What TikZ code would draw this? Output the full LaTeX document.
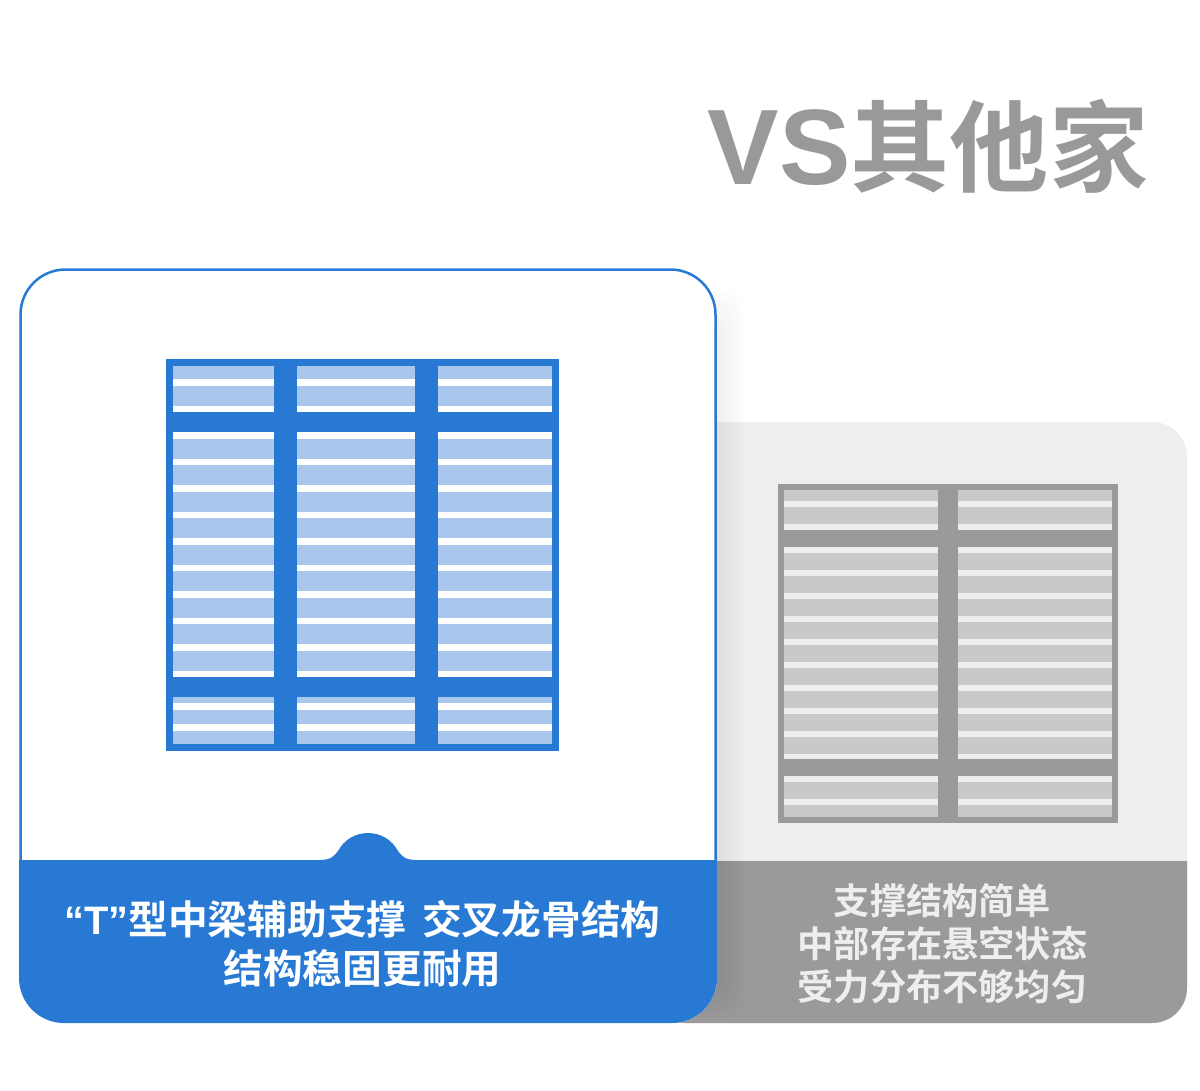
\documentclass[tikz,border=0pt]{standalone}
\usepackage{fontspec}
\setmainfont{Noto Sans CJK SC}[BoldFont={Noto Sans CJK SC Bold}]
\newfontfamily\latinfont{Liberation Sans}
\definecolor{mainblue}{HTML}{2779D4}
\definecolor{lightblue}{HTML}{A9C6ED}
\definecolor{maingray}{HTML}{9A9A9A}
\definecolor{lightgray}{HTML}{C9C9C9}
\definecolor{palegray}{HTML}{EEEEEE}
\definecolor{titlegray}{HTML}{999999}
\begin{document}
\begin{tikzpicture}[
    x=0.02cm, y=-0.02cm,
    every node/.style={align=center, inner sep=0pt},
    titletext/.style={font=\fontsize{56.5}{60}\selectfont\bfseries, text=titlegray},
    bluetext/.style={font=\fontsize{22.6}{27.8}\selectfont\bfseries, text=white},
    graytext/.style={font=\fontsize{20.6}{24.4}\selectfont\bfseries, text=palegray},
    softshadow/.style={fill=black, opacity=0.004, rounded corners=0.5cm},
  ]
  \useasboundingbox (0, 0) rectangle (1200, 1090);
  \fill[white] (0, 0) rectangle (1200, 1090);

  % === Title ===
  \node[titletext] (title) at (928, 146) {{\latinfont\bfseries\fontsize{61}{60}\selectfont VS}其他家};

  % === Gray card ===
  \fill[palegray, rounded corners=0.7cm] (650, 422) rectangle (1187, 1023);
  \fill[maingray] (650, 861) [rounded corners=0.7cm] -- (650, 1023) -- (1187, 1023) [sharp corners] -- (1187, 861) -- cycle;

  % === Blue card ===
  \foreach \d in {2,4,...,30}
    \fill[softshadow] (600, 320-\d) rectangle (717+\d, 990+\d);
  \fill[white, rounded corners=0.9cm] (19, 268) rectangle (717, 1023);
  \draw[mainblue, line width=0.05cm, rounded corners=0.9cm] (20.5, 269.5) rectangle (715.5, 1021.5);
  \fill[mainblue] (19, 860) [rounded corners=0.9cm] -- (19, 1023) -- (717, 1023) [sharp corners] -- (717, 860) -- (416, 860)
    .. controls (405, 860) and (402, 856) .. (398, 851)
    .. controls (392, 840) and (381, 833) .. (368, 833)
    .. controls (355, 833) and (344, 840) .. (338, 851)
    .. controls (334, 856) and (331, 860) .. (320, 860) -- cycle;

  % === Blue grid ===
  \fill[lightblue] (173, 366) rectangle (553, 744);
  \foreach \y in {379, 406, 703, 724}
    \fill[white] (173, \y) rectangle (553, \y+6.5);
  \foreach \k in {0,...,9}
    \fill[white] (173, 432+26.55*\k) rectangle (553, 438.5+26.55*\k);
  \draw[mainblue, line width=0.14cm] (169.5, 362.5) rectangle (555.5, 747.5);
  \fill[mainblue] (166, 412) rectangle (559, 432);
  \fill[mainblue] (166, 677) rectangle (559, 697);
  \fill[mainblue] (274, 359) rectangle (297, 751);
  \fill[mainblue] (415, 359) rectangle (438, 751);

  % === Gray grid ===
  \fill[lightgray] (784, 490) rectangle (1112, 817);
  \foreach \y in {501, 524, 776, 799}
    \fill[palegray] (784, \y) rectangle (1112, \y+6);
  \foreach \k in {0,...,9}
    \fill[palegray] (784, 547+23*\k) rectangle (1112, 553+23*\k);
  \draw[maingray, line width=0.12cm] (781, 487) rectangle (1115, 820);
  \fill[maingray] (778, 530) rectangle (1118, 547);
  \fill[maingray] (778, 759) rectangle (1118, 776);
  \fill[maingray] (938, 484) rectangle (958, 823);

  % === Captions ===
  \node[bluetext] (bluecap) at (362.5, 944) {{\latinfont\bfseries\fontsize{22.6}{27.8}\selectfont “T”}型中梁辅助支撑\hspace{9pt}交叉龙骨结构\\结构稳固更耐用};
  \node[graytext] (graycap) at (942.5, 944) {支撑结构简单\\中部存在悬空状态\\受力分布不够均匀};
\end{tikzpicture}
\end{document}
